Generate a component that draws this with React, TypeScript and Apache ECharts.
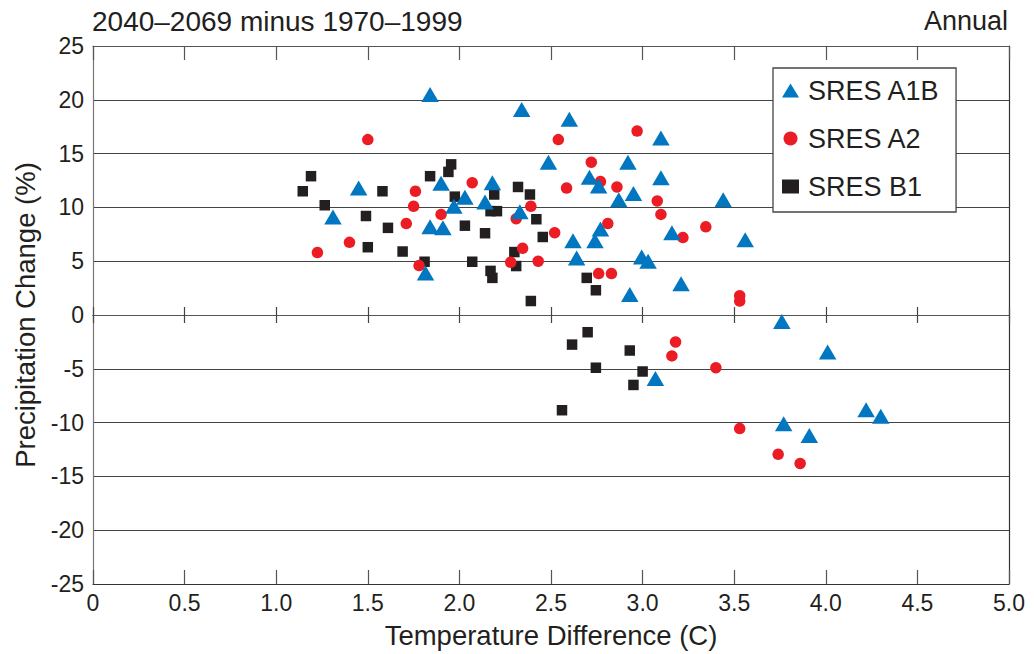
import React, { useEffect, useRef } from "react";
import * as echarts from "echarts";

const xTicks = ["0", "0.5", "1.0", "1.5", "2.0", "2.5", "3.0", "3.5", "4.0", "4.5", "5.0"];
const seriesNames = ["SRES A1B", "SRES A2", "SRES B1"];

const a1b: [number, number][] = [
  [1.31, 9.1], [1.45, 11.8], [1.815, 3.9], [1.84, 20.5], [1.84, 8.2], [1.9, 12.25],
  [1.91, 8.1], [1.97, 10.1], [2.03, 10.95], [2.14, 10.5], [2.18, 12.3], [2.33, 9.6],
  [2.34, 19.1], [2.486, 14.2], [2.6, 18.2], [2.62, 6.9], [2.64, 5.3], [2.71, 12.8],
  [2.74, 6.9], [2.76, 12.0], [2.77, 8.0], [2.87, 10.7], [2.92, 14.2], [2.93, 1.9],
  [2.95, 11.3], [2.995, 5.4], [3.03, 5.0], [3.07, -5.9], [3.1, 16.45], [3.1, 12.75],
  [3.16, 7.65], [3.21, 2.9], [3.44, 10.7], [3.56, 7.0], [3.76, -0.6], [3.77, -10.1],
  [3.91, -11.2], [4.01, -3.45], [4.22, -8.8], [4.3, -9.4],
];

const a2: [number, number][] = [
  [1.225, 5.8], [1.4, 6.75], [1.5, 16.3], [1.71, 8.5], [1.75, 10.1], [1.76, 11.5],
  [1.78, 4.6], [1.9, 9.35], [2.07, 12.3], [2.28, 4.9], [2.31, 8.95], [2.345, 6.2],
  [2.39, 10.1], [2.43, 5.0], [2.52, 7.65], [2.54, 16.3], [2.585, 11.8], [2.72, 14.2],
  [2.76, 3.85], [2.77, 12.4], [2.81, 8.5], [2.83, 3.85], [2.86, 11.9], [2.97, 17.1],
  [3.08, 10.6], [3.1, 9.35], [3.16, -3.8], [3.18, -2.5], [3.22, 7.2], [3.345, 8.2],
  [3.4, -4.9], [3.53, 1.8], [3.53, 1.3], [3.53, -10.55], [3.74, -12.95], [3.86, -13.8],
];

const b1: [number, number][] = [
  [1.145, 11.5], [1.19, 12.9], [1.265, 10.2], [1.49, 9.2], [1.5, 6.3], [1.58, 11.5],
  [1.61, 8.1], [1.69, 5.9], [1.81, 4.95], [1.84, 12.9], [1.94, 13.3], [1.955, 14.0],
  [1.975, 11.0], [2.03, 8.3], [2.07, 4.95], [2.14, 7.6], [2.17, 9.65], [2.205, 9.65],
  [2.17, 4.1], [2.18, 3.45], [2.19, 11.2], [2.3, 5.85], [2.31, 4.55], [2.32, 11.9],
  [2.385, 11.2], [2.39, 1.3], [2.42, 8.9], [2.455, 7.25], [2.56, -8.85], [2.615, -2.75],
  [2.695, 3.45], [2.7, -1.6], [2.745, 2.3], [2.745, -4.9], [2.93, -3.3], [2.95, -6.5],
  [3.0, -5.25],
];

const FONT = "'Liberation Sans', Arial, sans-serif";
const TXT = "#231f20";

export default function App() {
  const ref = useRef<HTMLDivElement>(null);
  useEffect(() => {
    if (!ref.current) return;
    const chart = echarts.init(ref.current, null, { renderer: "svg" });
    const baseX = {
      type: "value" as const,
      min: 0,
      max: 5,
      interval: 0.5,
      splitLine: { show: false },
    };
    chart.setOption({
      animation: false,
      backgroundColor: "#fff",
      textStyle: { fontFamily: FONT },
      title: [
        {
          text: "2040–2069 minus 1970–1999",
          left: 92,
          top: 7,
          padding: 0,
          textStyle: { fontFamily: FONT, fontSize: 28, fontWeight: "normal", color: TXT },
        },
        {
          text: "Annual",
          right: 26,
          top: 7,
          padding: 0,
          textStyle: { fontFamily: FONT, fontSize: 27, fontWeight: "normal", color: TXT },
        },
      ],
      legend: {
        data: [
          { name: seriesNames[0], icon: "triangle" },
          { name: seriesNames[1], icon: "circle" },
          { name: seriesNames[2], icon: "rect" },
        ],
        orient: "vertical",
        left: 773,
        top: 68,
        padding: [9, 16, 12, 9],
        itemGap: 21,
        itemWidth: 17,
        itemHeight: 14,
        backgroundColor: "#fff",
        borderColor: "#444",
        borderWidth: 1.3,
        textStyle: { fontFamily: FONT, fontSize: 27, color: TXT, padding: [0, 0, 0, 4] },
      },
      grid: { left: 93, right: 25, top: 46, bottom: 68 },
      xAxis: [
        {
          ...baseX,
          position: "bottom",
          name: "Temperature Difference (C)",
          nameLocation: "middle",
          nameGap: 37,
          nameTextStyle: { fontFamily: FONT, fontSize: 27.5, color: TXT },
          axisLine: { onZero: false, lineStyle: { color: "#333", width: 1.2 } },
          axisTick: { inside: true, length: 14, lineStyle: { color: "#555", width: 1.2 } },
          axisLabel: {
            fontFamily: FONT,
            fontSize: 23,
            color: TXT,
            margin: 7,
            formatter: (v: number) => xTicks[Math.round(v * 2)] ?? "",
          },
        },
        {
          ...baseX,
          position: "top",
          axisLine: { onZero: false, lineStyle: { color: "#555", width: 1.2 } },
          axisTick: { inside: true, length: 14, lineStyle: { color: "#555", width: 1.2 } },
          axisLabel: { show: false },
        },
        {
          ...baseX,
          position: "bottom",
          axisLine: { onZero: true, lineStyle: { color: "#555", width: 1.2 } },
          axisTick: { inside: true, length: 8, lineStyle: { color: "#444", width: 1.2 } },
          axisLabel: { show: false },
        },
        {
          ...baseX,
          position: "bottom",
          axisLine: { onZero: true, lineStyle: { color: "#555", width: 1.2 } },
          axisTick: { inside: false, length: 8, lineStyle: { color: "#444", width: 1.2 } },
          axisLabel: { show: false },
        },
      ],
      yAxis: [
        {
          type: "value",
          min: -25,
          max: 25,
          interval: 5,
          position: "left",
          name: "Precipitation Change (%)",
          nameLocation: "middle",
          nameGap: 54,
          nameTextStyle: { fontFamily: FONT, fontSize: 27.5, color: TXT },
          axisLine: { show: true, onZero: false, lineStyle: { color: "#777", width: 1.2 } },
          axisTick: { show: false },
          axisLabel: { fontFamily: FONT, fontSize: 23, color: TXT, margin: 9 },
          splitLine: { show: true, lineStyle: { color: "#444", width: 1.2 } },
        },
        {
          type: "value",
          min: -25,
          max: 25,
          interval: 5,
          position: "right",
          axisLine: { show: true, onZero: false, lineStyle: { color: "#333", width: 1.2 } },
          axisTick: { show: false },
          axisLabel: { show: false },
          splitLine: { show: false },
        },
      ],
      series: [
        {
          name: seriesNames[2],
          type: "scatter",
          data: b1,
          symbol: "rect",
          symbolSize: 10.5,
          itemStyle: { color: "#231f20", opacity: 1 },
          z: 3,
        },
        {
          name: seriesNames[1],
          type: "scatter",
          data: a2,
          symbol: "circle",
          symbolSize: 11.5,
          itemStyle: { color: "#ec1c24", opacity: 1 },
          z: 4,
        },
        {
          name: seriesNames[0],
          type: "scatter",
          data: a1b,
          symbol: "triangle",
          symbolSize: [17.5, 15],
          itemStyle: { color: "#0077c0", opacity: 1 },
          z: 5,
        },
      ],
    });
    return () => chart.dispose();
  }, []);
  return <div ref={ref} style={{ width: 1034, height: 654, position: "absolute", left: 0, top: 0 }} />;
}
